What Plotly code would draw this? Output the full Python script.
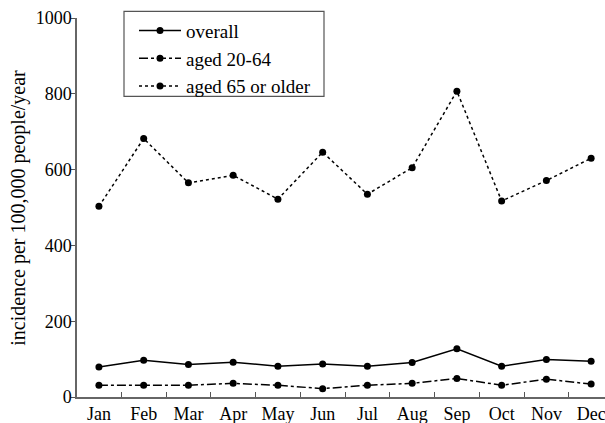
import plotly.graph_objects as go

months = ["Jan", "Feb", "Mar", "Apr", "May", "Jun", "Jul", "Aug", "Sep", "Oct", "Nov", "Dec"]
overall = [79, 97, 86, 92, 81, 87, 81, 91, 127, 81, 99, 94]
aged_20_64 = [31, 31, 31, 36, 31, 22, 31, 36, 49, 31, 47, 34]
aged_65_plus = [503, 682, 565, 585, 522, 646, 535, 605, 807, 517, 571, 630]
y_ticks = [0, 200, 400, 600, 800, 1000]
y_title = "incidence per 100,000 people/year"

FONT = "Times New Roman, Liberation Serif, DejaVu Serif, serif"

# pixel geometry of the plot area
L, T, B = 77, 18.3, 397.3
PW, PH = 605 - L, B - T

def px_x(px):
    return (px - L) / PW

def px_y(py):
    return (B - py) / PH

fig = go.Figure()
series = [
    ("overall", overall, "solid"),
    ("aged 20-64", aged_20_64, "dashdot"),
    ("aged 65 or older", aged_65_plus, "dot"),
]
for name, vals, dash in series:
    fig.add_trace(go.Scatter(
        x=months, y=vals, name=name, mode="lines+markers",
        line=dict(color="black", width=1.5, dash=dash),
        marker=dict(color="black", size=7, symbol="circle"),
    ))

# legend frame
fig.add_shape(type="rect", xref="paper", yref="paper",
              x0=px_x(124), x1=px_x(324), y0=px_y(96.7), y1=px_y(11.7),
              line=dict(color="#555555", width=1.2), fillcolor="rgba(0,0,0,0)")

# y-axis title
fig.add_annotation(text=y_title, xref="paper", yref="paper",
                   x=px_x(19), y=px_y(208), xanchor="center", yanchor="middle",
                   textangle=-90, showarrow=False,
                   font=dict(family=FONT, size=20, color="black"))

fig.update_layout(
    width=605, height=423,
    margin=dict(l=L, r=0, t=T, b=423 - B),
    paper_bgcolor="white", plot_bgcolor="white",
    font=dict(family=FONT, size=18, color="black"),
    showlegend=True,
    legend=dict(
        x=px_x(134), y=px_y(12), xref="paper", yref="paper",
        xanchor="left", yanchor="top",
        borderwidth=0, bgcolor="rgba(0,0,0,0)",
        font=dict(family=FONT, size=19, color="black"),
        itemwidth=42, tracegroupgap=0, traceorder="normal",
    ),
    xaxis=dict(
        type="category", range=[-0.49, 11.31],
        tickson="boundaries", ticks="inside", ticklen=5, tickcolor="#555555",
        showline=True, linecolor="#666666", linewidth=1.5,
        showgrid=False, zeroline=False,
        tickfont=dict(family=FONT, size=18, color="black"),
        automargin=False,
    ),
    yaxis=dict(
        range=[0, 1000], tickvals=y_ticks,
        ticks="outside", ticklen=4, tickcolor="#555555",
        showline=True, linecolor="#666666", linewidth=1.5,
        showgrid=False, zeroline=False,
        tickfont=dict(family=FONT, size=18, color="black"),
        ticklabelstandoff=-4,
        automargin=False,
    ),
)

fig.write_html("out.html", config={"displayModeBar": False},
               post_script="document.body.style.margin='0';")
